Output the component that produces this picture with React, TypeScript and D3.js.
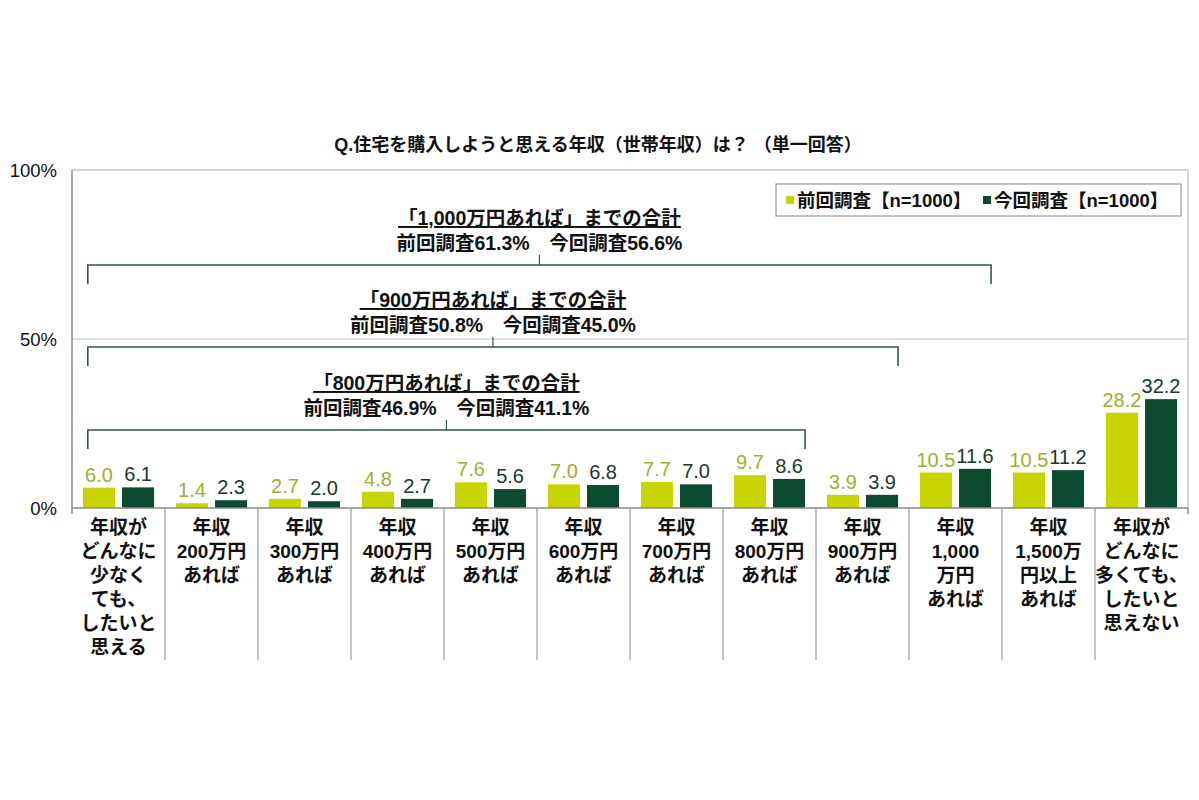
import React from "react";
import * as d3 from "d3";

const categories: string[][] = [
  ["年収が", "どんなに", "少なく", "ても、", "したいと", "思える"],
  ["年収", "200万円", "あれば"],
  ["年収", "300万円", "あれば"],
  ["年収", "400万円", "あれば"],
  ["年収", "500万円", "あれば"],
  ["年収", "600万円", "あれば"],
  ["年収", "700万円", "あれば"],
  ["年収", "800万円", "あれば"],
  ["年収", "900万円", "あれば"],
  ["年収", "1,000", "万円", "あれば"],
  ["年収", "1,500万", "円以上", "あれば"],
  ["年収が", "どんなに", "多くても、", "したいと", "思えない"],
];
const prevValues = [6.0, 1.4, 2.7, 4.8, 7.6, 7.0, 7.7, 9.7, 3.9, 10.5, 10.5, 28.2];
const currValues = [6.1, 2.3, 2.0, 2.7, 5.6, 6.8, 7.0, 8.6, 3.9, 11.6, 11.2, 32.2];
const seriesNames = ["前回調査【n=1000】", "今回調査【n=1000】"];
const yTicks = [0, 50, 100];
const title = "Q.住宅を購入しようと思える年収（世帯年収）は？ （単一回答）";
const brackets = [
  { label: "「1,000万円あれば」までの合計", sub: "前回調査61.3%　今回調査56.6%", endIndex: 9 },
  { label: "「900万円あれば」までの合計", sub: "前回調査50.8%　今回調査45.0%", endIndex: 8 },
  { label: "「800万円あれば」までの合計", sub: "前回調査46.9%　今回調査41.1%", endIndex: 7 },
];

const FONT = "'Liberation Sans', Arial, 'Noto Sans CJK JP', sans-serif";
const LIME = "#c8d400";
const DARK = "#0d4b30";
const LIME_TXT = "#a3ad2c";
const DARK_TXT = "#173a28";

export default function App() {
  const W = 1199, H = 800;
  const left = 72, right = 1188, top = 170, bottom = 508;
  const idx = categories.map((_, i) => String(i));
  const x = d3.scaleBand<string>().domain(idx).range([left, right]).padding(0);
  const sub = d3.scaleBand<string>().domain(["p", "c"]).range([0, x.bandwidth()]).paddingInner(0.18).paddingOuter(0.28);
  const y = d3.scaleLinear().domain([0, 100]).range([bottom, top]);
  const bw = sub.bandwidth();

  const bracketY = [265, 347, 430];
  const bracketLeft = x("0")! + x.bandwidth() * 0.17;

  return (
    <svg width={W} height={H} style={{ position: "absolute", left: 0, top: 0, background: "#fff" }} fontFamily={FONT}>
      <rect x={0} y={0} width={W} height={H} fill="#fff" />
      <text x={598} y={151} textAnchor="middle" fontSize={18} fontWeight="bold" fill="#111">{title}</text>

      {/* frame */}
      <line x1={left} x2={right} y1={y(100)} y2={y(100)} stroke="#c8c8c8" strokeWidth={1.5} />
      <line x1={right} x2={right} y1={y(100)} y2={y(0)} stroke="#c8c8c8" strokeWidth={1.5} />
      <line x1={left} x2={right} y1={y(50)} y2={y(50)} stroke="#d4d4d4" strokeWidth={1.5} />

      {/* y ticks */}
      {yTicks.map((t) => (
        <text key={t} x={57} y={y(t) + 7} textAnchor="end" fontSize={18.5} fill="#111">{t}%</text>
      ))}

      {/* legend */}
      <rect x={776} y={184} width={405} height={32} fill="#fff" stroke="#999" strokeWidth={1.2} />
      <rect x={786} y={196} width={8} height={8} fill={LIME} />
      <text x={797} y={207} fontSize={18.5} fontWeight="bold" fill="#111">{seriesNames[0]}</text>
      <rect x={983} y={196} width={8} height={8} fill={DARK} />
      <text x={994} y={207} fontSize={18.5} fontWeight="bold" fill="#111">{seriesNames[1]}</text>

      {/* brackets */}
      {brackets.map((b, i) => {
        const by = bracketY[i];
        const rx = x(String(b.endIndex))! + sub("c")! + bw;
        const cx = (bracketLeft + rx) / 2;
        return (
          <g key={i}>
            <rect x={cx - 158} y={by - 64} width={316} height={48} fill="#fff" />
            <text x={cx} y={by - 40} textAnchor="middle" fontSize={19.5} fontWeight="bold" fill="#111" textDecoration="underline">{b.label}</text>
            <text x={cx} y={by - 15} textAnchor="middle" fontSize={19.5} fontWeight="bold" fill="#111">{b.sub}</text>
            <path d={`M${bracketLeft},${by + 19}V${by}H${rx}V${by + 19}`} fill="none" stroke="#2f5a45" strokeWidth={1.6} />
            <line x1={cx} x2={cx} y1={by} y2={by - 10} stroke="#2f5a45" strokeWidth={1.2} />
          </g>
        );
      })}

      {/* bars */}
      {idx.map((k, i) => {
        const x0 = x(k)!;
        const px = x0 + sub("p")!;
        const cxp = x0 + sub("c")!;
        return (
          <g key={k}>
            <rect x={px} y={y(prevValues[i])} width={bw} height={y(0) - y(prevValues[i])} fill={LIME} />
            <rect x={cxp} y={y(currValues[i])} width={bw} height={y(0) - y(currValues[i])} fill={DARK} />
            <text x={px + bw / 2} y={y(prevValues[i]) - 6} textAnchor="middle" fontSize={20} fill={LIME_TXT}>{prevValues[i].toFixed(1)}</text>
            <text x={cxp + bw / 2} y={y(currValues[i]) - 6} textAnchor="middle" fontSize={20} fill={DARK_TXT}>{currValues[i].toFixed(1)}</text>
          </g>
        );
      })}

      {/* axes */}
      <line x1={left} x2={left} y1={y(100)} y2={y(0) + 6} stroke="#8a8a8a" strokeWidth={1.5} />
      <line x1={left} x2={right} y1={y(0)} y2={y(0)} stroke="#8a8a8a" strokeWidth={1.5} />
      {d3.range(1, categories.length).map((i) => (
        <line key={i} x1={x(String(i))!} x2={x(String(i))!} y1={y(0)} y2={660} stroke="#a0a0a0" strokeWidth={1.3} />
      ))}
      <line x1={right} x2={right} y1={y(0)} y2={y(0) + 6} stroke="#8a8a8a" strokeWidth={1.5} />

      {/* category labels */}
      {categories.map((lines, i) => (
        <text key={i} textAnchor="middle" fontSize={19} fontWeight="bold" fill="#111">
          {lines.map((l, j) => (
            <tspan key={j} x={x(String(i))! + x.bandwidth() / 2} y={534 + j * 24}>{l}</tspan>
          ))}
        </text>
      ))}
    </svg>
  );
}
